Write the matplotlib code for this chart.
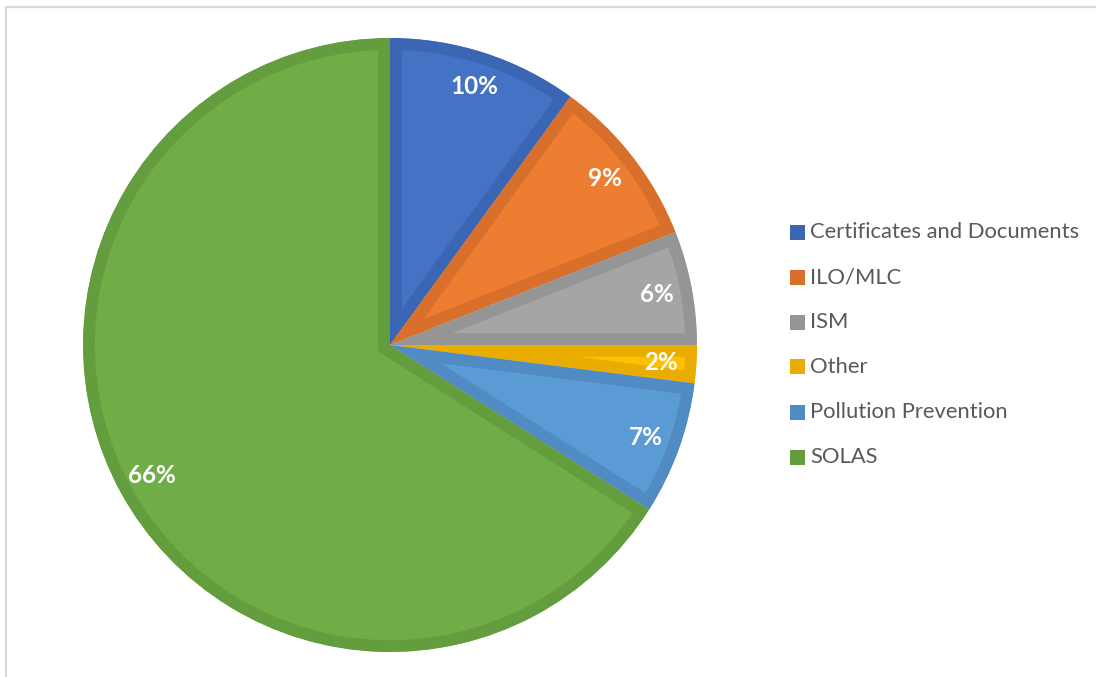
import matplotlib
matplotlib.use("Agg")
import matplotlib.pyplot as plt
from matplotlib.patches import Rectangle
from matplotlib.lines import Line2D

categories = ["Certificates and Documents", "ILO/MLC", "ISM", "Other",
              "Pollution Prevention", "SOLAS"]
shares = [10, 9, 6, 2, 7, 66]
fill_colors = ["#4472C4", "#ED7D31", "#A5A5A5", "#FFC000", "#5B9BD5", "#70AD47"]
edge_colors = ["#3A66B3", "#D86F2B", "#959595", "#E8AD00", "#508BC3", "#649D3E"]

W, H, DPI = 1096, 677, 100
fig = plt.figure(figsize=(W / DPI, H / DPI), dpi=DPI)
fig.patch.set_facecolor("white")

# pie geometry in pixels
cx, cy, R = 390, 345, 307
ax = fig.add_axes([0, 0, 1, 1])

wedges, _, autotexts = ax.pie(
    shares, colors=fill_colors, startangle=90, counterclock=False,
    radius=1.0, autopct="%1.0f%%", pctdistance=0.885,
    textprops=dict(color="white", fontsize=17.5, fontweight="bold",
                   family=["Lato", "DejaVu Sans"]),
    wedgeprops=dict(linewidth=17, joinstyle="miter"),
)
# darker inner border on each slice: stroke clipped to the slice itself
for w, ec in zip(wedges, edge_colors):
    w.set_edgecolor(ec)
    w.set_clip_on(True)
    w.set_clip_path(w)

ax.set_aspect("auto")
ax.set_xlim(-cx / R, (W - cx) / R)
ax.set_ylim(-(H - cy) / R, cy / R)
ax.axis("off")

# legend
for i, (name, col) in enumerate(zip(categories, edge_colors)):
    y = 232 + 45 * i
    fig.patches.append(Rectangle((790 / W, 1 - (y + 7.5) / H), 15 / W, 15 / H,
                                 transform=fig.transFigure, facecolor=col,
                                 edgecolor="none"))
    fig.text(810 / W, 1 - y / H, name, ha="left", va="center", fontsize=15.8,
             color="#595959", family=["Lato", "DejaVu Sans"])

# outer frame (top and left edges)
frame = "#D9D9D9"
fig.add_artist(Line2D([6 / W, 1], [1 - 7 / H, 1 - 7 / H], color=frame, lw=1.6,
                      transform=fig.transFigure))
fig.add_artist(Line2D([6 / W, 6 / W], [0, 1 - 7 / H], color=frame, lw=1.6,
                      transform=fig.transFigure))

fig.savefig("out.png", dpi=DPI, facecolor="white")
